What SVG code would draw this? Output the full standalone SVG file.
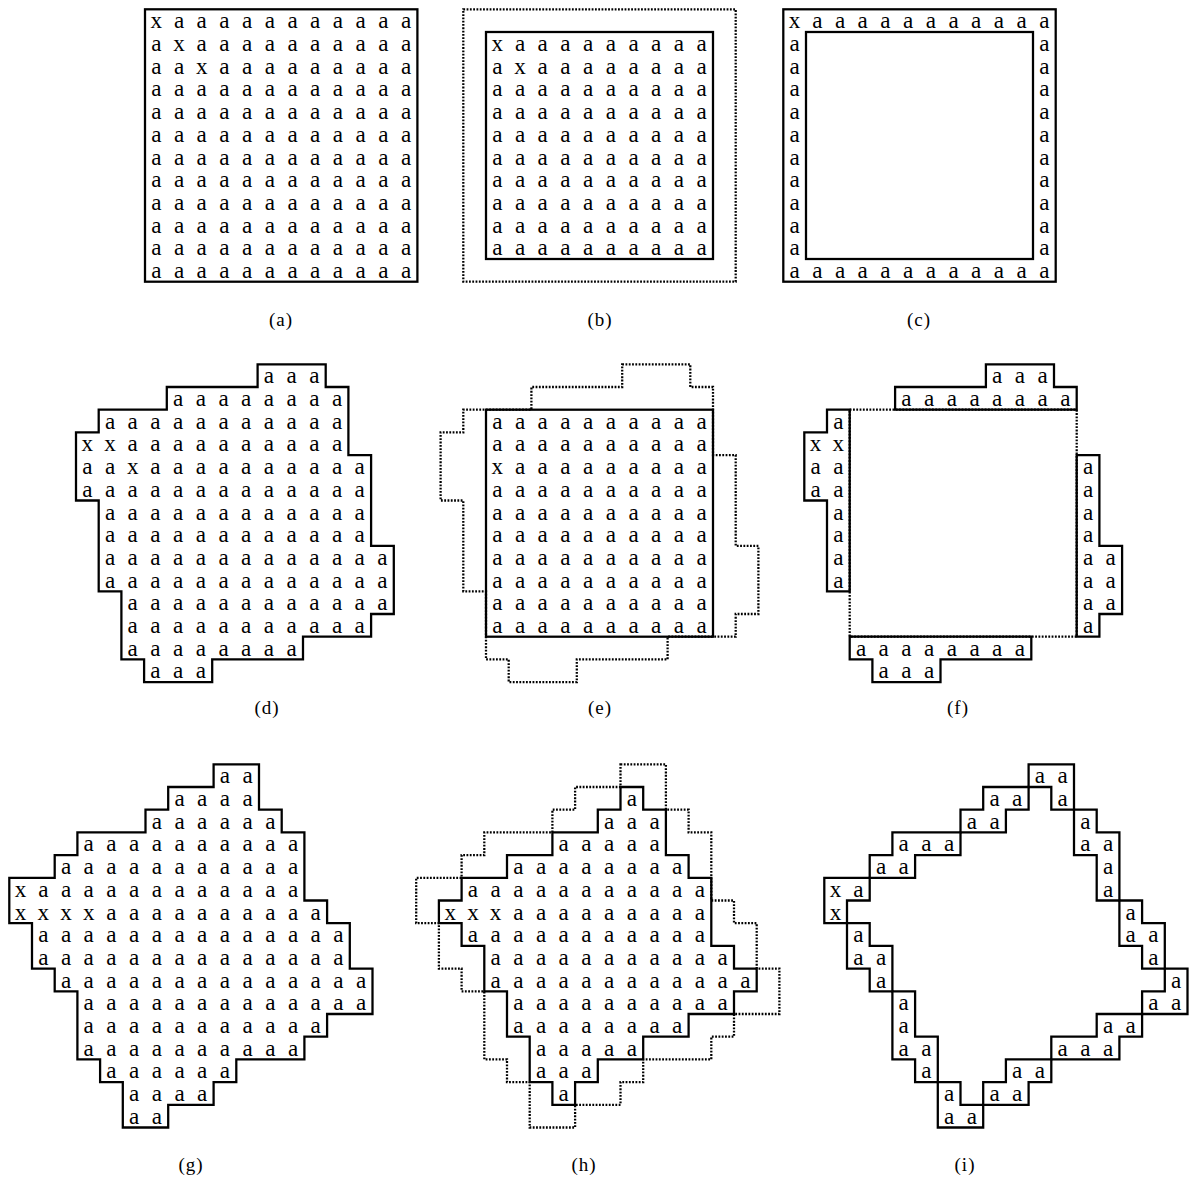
<svg xmlns="http://www.w3.org/2000/svg" width="1192" height="1186" viewBox="0 0 1192 1186">
<style>
.t{font-family:"Liberation Serif","DejaVu Serif",serif;font-size:10.2px;text-anchor:middle;fill:#000}
.s{fill:none;stroke:#000;stroke-width:1.0;stroke-linejoin:miter}
.d{fill:none;stroke:#000;stroke-width:1.0;stroke-dasharray:0.8 0.65}
.cap{font-family:"Liberation Serif","DejaVu Serif",serif;font-size:19px;text-anchor:middle;letter-spacing:1px;fill:#000}
</style>
<rect width="1192" height="1186" fill="#fff"/>

<g id="panel-a" transform="translate(145,9.3) scale(2.27)">
<rect class="s" x="0" y="0" width="120" height="120"/>
<text class="t" y="8.4" x="5 10 15 20 25 30 35 40 45 50 55 60 65 70 75 80 85 90 95 100 105 110 115">x a a a a a a a a a a a</text>
<text class="t" y="18.4" x="5 10 15 20 25 30 35 40 45 50 55 60 65 70 75 80 85 90 95 100 105 110 115">a x a a a a a a a a a a</text>
<text class="t" y="28.4" x="5 10 15 20 25 30 35 40 45 50 55 60 65 70 75 80 85 90 95 100 105 110 115">a a x a a a a a a a a a</text>
<text class="t" y="38.4" x="5 10 15 20 25 30 35 40 45 50 55 60 65 70 75 80 85 90 95 100 105 110 115">a a a a a a a a a a a a</text>
<text class="t" y="48.4" x="5 10 15 20 25 30 35 40 45 50 55 60 65 70 75 80 85 90 95 100 105 110 115">a a a a a a a a a a a a</text>
<text class="t" y="58.4" x="5 10 15 20 25 30 35 40 45 50 55 60 65 70 75 80 85 90 95 100 105 110 115">a a a a a a a a a a a a</text>
<text class="t" y="68.4" x="5 10 15 20 25 30 35 40 45 50 55 60 65 70 75 80 85 90 95 100 105 110 115">a a a a a a a a a a a a</text>
<text class="t" y="78.4" x="5 10 15 20 25 30 35 40 45 50 55 60 65 70 75 80 85 90 95 100 105 110 115">a a a a a a a a a a a a</text>
<text class="t" y="88.4" x="5 10 15 20 25 30 35 40 45 50 55 60 65 70 75 80 85 90 95 100 105 110 115">a a a a a a a a a a a a</text>
<text class="t" y="98.4" x="5 10 15 20 25 30 35 40 45 50 55 60 65 70 75 80 85 90 95 100 105 110 115">a a a a a a a a a a a a</text>
<text class="t" y="108.4" x="5 10 15 20 25 30 35 40 45 50 55 60 65 70 75 80 85 90 95 100 105 110 115">a a a a a a a a a a a a</text>
<text class="t" y="118.4" x="5 10 15 20 25 30 35 40 45 50 55 60 65 70 75 80 85 90 95 100 105 110 115">a a a a a a a a a a a a</text>
</g>

<g id="panel-b" transform="translate(463.3,9.3) scale(2.27)">
<rect class="d" x="0" y="0" width="120" height="120"/>
<rect class="s" x="10" y="10" width="100" height="100"/>
<text class="t" y="18.4" x="15 20 25 30 35 40 45 50 55 60 65 70 75 80 85 90 95 100 105">x a a a a a a a a a</text>
<text class="t" y="28.4" x="15 20 25 30 35 40 45 50 55 60 65 70 75 80 85 90 95 100 105">a x a a a a a a a a</text>
<text class="t" y="38.4" x="15 20 25 30 35 40 45 50 55 60 65 70 75 80 85 90 95 100 105">a a a a a a a a a a</text>
<text class="t" y="48.4" x="15 20 25 30 35 40 45 50 55 60 65 70 75 80 85 90 95 100 105">a a a a a a a a a a</text>
<text class="t" y="58.4" x="15 20 25 30 35 40 45 50 55 60 65 70 75 80 85 90 95 100 105">a a a a a a a a a a</text>
<text class="t" y="68.4" x="15 20 25 30 35 40 45 50 55 60 65 70 75 80 85 90 95 100 105">a a a a a a a a a a</text>
<text class="t" y="78.4" x="15 20 25 30 35 40 45 50 55 60 65 70 75 80 85 90 95 100 105">a a a a a a a a a a</text>
<text class="t" y="88.4" x="15 20 25 30 35 40 45 50 55 60 65 70 75 80 85 90 95 100 105">a a a a a a a a a a</text>
<text class="t" y="98.4" x="15 20 25 30 35 40 45 50 55 60 65 70 75 80 85 90 95 100 105">a a a a a a a a a a</text>
<text class="t" y="108.4" x="15 20 25 30 35 40 45 50 55 60 65 70 75 80 85 90 95 100 105">a a a a a a a a a a</text>
</g>

<g id="panel-c" transform="translate(783.3,9.3) scale(2.27)">
<rect class="s" x="0" y="0" width="120" height="120"/>
<rect class="s" x="10" y="10" width="100" height="100"/>
<text class="t" y="8.4" x="5 10 15 20 25 30 35 40 45 50 55 60 65 70 75 80 85 90 95 100 105 110 115">x a a a a a a a a a a a</text>
<text class="t" y="18.4" x="5 60 115">a a</text>
<text class="t" y="28.4" x="5 60 115">a a</text>
<text class="t" y="38.4" x="5 60 115">a a</text>
<text class="t" y="48.4" x="5 60 115">a a</text>
<text class="t" y="58.4" x="5 60 115">a a</text>
<text class="t" y="68.4" x="5 60 115">a a</text>
<text class="t" y="78.4" x="5 60 115">a a</text>
<text class="t" y="88.4" x="5 60 115">a a</text>
<text class="t" y="98.4" x="5 60 115">a a</text>
<text class="t" y="108.4" x="5 60 115">a a</text>
<text class="t" y="118.4" x="5 10 15 20 25 30 35 40 45 50 55 60 65 70 75 80 85 90 95 100 105 110 115">a a a a a a a a a a a a</text>
</g>

<g id="panel-d" transform="translate(76,364.3) scale(2.27)">
<path class="s" d="M80 0H110V10H120V40H130V80H140V110H130V120H100V130H60V140H30V130H20V100H10V60H0V30H10V20H40V10H80Z"/>
<text class="t" y="8.4" x="85 90 95 100 105">a a a</text>
<text class="t" y="18.4" x="45 50 55 60 65 70 75 80 85 90 95 100 105 110 115">a a a a a a a a</text>
<text class="t" y="28.4" x="15 20 25 30 35 40 45 50 55 60 65 70 75 80 85 90 95 100 105 110 115">a a a a a a a a a a a</text>
<text class="t" y="38.4" x="5 10 15 20 25 30 35 40 45 50 55 60 65 70 75 80 85 90 95 100 105 110 115">x x a a a a a a a a a a</text>
<text class="t" y="48.4" x="5 10 15 20 25 30 35 40 45 50 55 60 65 70 75 80 85 90 95 100 105 110 115 120 125">a a x a a a a a a a a a a</text>
<text class="t" y="58.4" x="5 10 15 20 25 30 35 40 45 50 55 60 65 70 75 80 85 90 95 100 105 110 115 120 125">a a a a a a a a a a a a a</text>
<text class="t" y="68.4" x="15 20 25 30 35 40 45 50 55 60 65 70 75 80 85 90 95 100 105 110 115 120 125">a a a a a a a a a a a a</text>
<text class="t" y="78.4" x="15 20 25 30 35 40 45 50 55 60 65 70 75 80 85 90 95 100 105 110 115 120 125">a a a a a a a a a a a a</text>
<text class="t" y="88.4" x="15 20 25 30 35 40 45 50 55 60 65 70 75 80 85 90 95 100 105 110 115 120 125 130 135">a a a a a a a a a a a a a</text>
<text class="t" y="98.4" x="15 20 25 30 35 40 45 50 55 60 65 70 75 80 85 90 95 100 105 110 115 120 125 130 135">a a a a a a a a a a a a a</text>
<text class="t" y="108.4" x="25 30 35 40 45 50 55 60 65 70 75 80 85 90 95 100 105 110 115 120 125 130 135">a a a a a a a a a a a a</text>
<text class="t" y="118.4" x="25 30 35 40 45 50 55 60 65 70 75 80 85 90 95 100 105 110 115 120 125">a a a a a a a a a a a</text>
<text class="t" y="128.4" x="25 30 35 40 45 50 55 60 65 70 75 80 85 90 95">a a a a a a a a</text>
<text class="t" y="138.4" x="35 40 45 50 55">a a a</text>
</g>

<g id="panel-e" transform="translate(440.6,364.3) scale(2.27)">
<path class="d" d="M80 0H110V10H120V40H130V80H140V110H130V120H100V130H60V140H30V130H20V100H10V60H0V30H10V20H40V10H80Z"/>
<rect class="s" x="20" y="20" width="100" height="100"/>
<text class="t" y="28.4" x="25 30 35 40 45 50 55 60 65 70 75 80 85 90 95 100 105 110 115">a a a a a a a a a a</text>
<text class="t" y="38.4" x="25 30 35 40 45 50 55 60 65 70 75 80 85 90 95 100 105 110 115">a a a a a a a a a a</text>
<text class="t" y="48.4" x="25 30 35 40 45 50 55 60 65 70 75 80 85 90 95 100 105 110 115">x a a a a a a a a a</text>
<text class="t" y="58.4" x="25 30 35 40 45 50 55 60 65 70 75 80 85 90 95 100 105 110 115">a a a a a a a a a a</text>
<text class="t" y="68.4" x="25 30 35 40 45 50 55 60 65 70 75 80 85 90 95 100 105 110 115">a a a a a a a a a a</text>
<text class="t" y="78.4" x="25 30 35 40 45 50 55 60 65 70 75 80 85 90 95 100 105 110 115">a a a a a a a a a a</text>
<text class="t" y="88.4" x="25 30 35 40 45 50 55 60 65 70 75 80 85 90 95 100 105 110 115">a a a a a a a a a a</text>
<text class="t" y="98.4" x="25 30 35 40 45 50 55 60 65 70 75 80 85 90 95 100 105 110 115">a a a a a a a a a a</text>
<text class="t" y="108.4" x="25 30 35 40 45 50 55 60 65 70 75 80 85 90 95 100 105 110 115">a a a a a a a a a a</text>
<text class="t" y="118.4" x="25 30 35 40 45 50 55 60 65 70 75 80 85 90 95 100 105 110 115">a a a a a a a a a a</text>
</g>

<g id="panel-f" transform="translate(804.3,364.3) scale(2.27)">
<rect class="d" x="20" y="20" width="100" height="100"/>
<path class="s" d="M80 0H110V10H120V20H40V10H80Z"/>
<path class="s" d="M10 20H20V100H10V60H0V30H10Z"/>
<path class="s" d="M120 40H130V80H140V110H130V120H120Z"/>
<path class="s" d="M20 120H100V130H60V140H30V130H20Z"/>
<text class="t" y="8.4" x="85 90 95 100 105">a a a</text>
<text class="t" y="18.4" x="45 50 55 60 65 70 75 80 85 90 95 100 105 110 115">a a a a a a a a</text>
<text class="t" y="28.4" x="15">a</text>
<text class="t" y="38.4" x="5 10 15">x x</text>
<text class="t" y="48.4" x="5 10 15">a a</text>
<text class="t" y="48.4" x="125">a</text>
<text class="t" y="58.4" x="5 10 15">a a</text>
<text class="t" y="58.4" x="125">a</text>
<text class="t" y="68.4" x="15">a</text>
<text class="t" y="68.4" x="125">a</text>
<text class="t" y="78.4" x="15">a</text>
<text class="t" y="78.4" x="125">a</text>
<text class="t" y="88.4" x="15">a</text>
<text class="t" y="88.4" x="125 130 135">a a</text>
<text class="t" y="98.4" x="15">a</text>
<text class="t" y="98.4" x="125 130 135">a a</text>
<text class="t" y="108.4" x="125 130 135">a a</text>
<text class="t" y="118.4" x="125">a</text>
<text class="t" y="128.4" x="25 30 35 40 45 50 55 60 65 70 75 80 85 90 95">a a a a a a a a</text>
<text class="t" y="138.4" x="35 40 45 50 55">a a a</text>
</g>

<g id="panel-g" transform="translate(9.3,764.3) scale(2.27)">
<path class="s" d="M90 0H110V20H120V30H130V60H140V70H150V90H160V110H140V120H130V130H100V140H90V150H70V160H50V140H40V130H30V100H20V90H10V70H0V50H20V40H30V30H60V20H70V10H90Z"/>
<text class="t" y="8.4" x="95 100 105">a a</text>
<text class="t" y="18.4" x="75 80 85 90 95 100 105">a a a a</text>
<text class="t" y="28.4" x="65 70 75 80 85 90 95 100 105 110 115">a a a a a a</text>
<text class="t" y="38.4" x="35 40 45 50 55 60 65 70 75 80 85 90 95 100 105 110 115 120 125">a a a a a a a a a a</text>
<text class="t" y="48.4" x="25 30 35 40 45 50 55 60 65 70 75 80 85 90 95 100 105 110 115 120 125">a a a a a a a a a a a</text>
<text class="t" y="58.4" x="5 10 15 20 25 30 35 40 45 50 55 60 65 70 75 80 85 90 95 100 105 110 115 120 125">x a a a a a a a a a a a a</text>
<text class="t" y="68.4" x="5 10 15 20 25 30 35 40 45 50 55 60 65 70 75 80 85 90 95 100 105 110 115 120 125 130 135">x x x x a a a a a a a a a a</text>
<text class="t" y="78.4" x="15 20 25 30 35 40 45 50 55 60 65 70 75 80 85 90 95 100 105 110 115 120 125 130 135 140 145">a a a a a a a a a a a a a a</text>
<text class="t" y="88.4" x="15 20 25 30 35 40 45 50 55 60 65 70 75 80 85 90 95 100 105 110 115 120 125 130 135 140 145">a a a a a a a a a a a a a a</text>
<text class="t" y="98.4" x="25 30 35 40 45 50 55 60 65 70 75 80 85 90 95 100 105 110 115 120 125 130 135 140 145 150 155">a a a a a a a a a a a a a a</text>
<text class="t" y="108.4" x="35 40 45 50 55 60 65 70 75 80 85 90 95 100 105 110 115 120 125 130 135 140 145 150 155">a a a a a a a a a a a a a</text>
<text class="t" y="118.4" x="35 40 45 50 55 60 65 70 75 80 85 90 95 100 105 110 115 120 125 130 135">a a a a a a a a a a a</text>
<text class="t" y="128.4" x="35 40 45 50 55 60 65 70 75 80 85 90 95 100 105 110 115 120 125">a a a a a a a a a a</text>
<text class="t" y="138.4" x="45 50 55 60 65 70 75 80 85 90 95">a a a a a a</text>
<text class="t" y="148.4" x="55 60 65 70 75 80 85">a a a a</text>
<text class="t" y="158.4" x="55 60 65">a a</text>
</g>

<g id="panel-h" transform="translate(416.2,764.3) scale(2.27)">
<path class="d" d="M90 0H110V20H120V30H130V60H140V70H150V90H160V110H140V120H130V130H100V140H90V150H70V160H50V140H40V130H30V100H20V90H10V70H0V50H20V40H30V30H60V20H70V10H90Z"/>
<path class="s" d="M90 10H100V20H110V40H120V50H130V80H140V90H150V100H140V110H120V120H100V130H80V140H70V150H60V140H50V120H40V100H30V80H20V70H10V60H20V50H40V40H60V30H80V20H90Z"/>
<text class="t" y="18.4" x="95">a</text>
<text class="t" y="28.4" x="85 90 95 100 105">a a a</text>
<text class="t" y="38.4" x="65 70 75 80 85 90 95 100 105">a a a a a</text>
<text class="t" y="48.4" x="45 50 55 60 65 70 75 80 85 90 95 100 105 110 115">a a a a a a a a</text>
<text class="t" y="58.4" x="25 30 35 40 45 50 55 60 65 70 75 80 85 90 95 100 105 110 115 120 125">a a a a a a a a a a a</text>
<text class="t" y="68.4" x="15 20 25 30 35 40 45 50 55 60 65 70 75 80 85 90 95 100 105 110 115 120 125">x x x a a a a a a a a a</text>
<text class="t" y="78.4" x="25 30 35 40 45 50 55 60 65 70 75 80 85 90 95 100 105 110 115 120 125">a a a a a a a a a a a</text>
<text class="t" y="88.4" x="35 40 45 50 55 60 65 70 75 80 85 90 95 100 105 110 115 120 125 130 135">a a a a a a a a a a a</text>
<text class="t" y="98.4" x="35 40 45 50 55 60 65 70 75 80 85 90 95 100 105 110 115 120 125 130 135 140 145">a a a a a a a a a a a a</text>
<text class="t" y="108.4" x="45 50 55 60 65 70 75 80 85 90 95 100 105 110 115 120 125 130 135">a a a a a a a a a a</text>
<text class="t" y="118.4" x="45 50 55 60 65 70 75 80 85 90 95 100 105 110 115">a a a a a a a a</text>
<text class="t" y="128.4" x="55 60 65 70 75 80 85 90 95">a a a a a</text>
<text class="t" y="138.4" x="55 60 65 70 75">a a a</text>
<text class="t" y="148.4" x="65">a</text>
</g>

<g id="panel-i" transform="translate(824.3,764.3) scale(2.27)">
<path class="s" d="M90 0H110V20H120V30H130V60H140V70H150V90H160V110H140V120H130V130H100V140H90V150H70V160H50V140H40V130H30V100H20V90H10V70H0V50H20V40H30V30H60V20H70V10H90Z"/>
<path class="s" d="M90 10H100V20H110V40H120V60H130V80H140V90H150V100H140V110H120V120H100V130H80V140H70V150H60V140H50V120H40V100H30V80H20V70H10V60H20V50H40V40H60V30H80V20H90Z"/>
<text class="t" y="8.4" x="95 100 105">a a</text>
<text class="t" y="18.4" x="75 80 85">a a</text>
<text class="t" y="18.4" x="105">a</text>
<text class="t" y="28.4" x="65 70 75">a a</text>
<text class="t" y="28.4" x="115">a</text>
<text class="t" y="38.4" x="35 40 45 50 55">a a a</text>
<text class="t" y="38.4" x="115 120 125">a a</text>
<text class="t" y="48.4" x="25 30 35">a a</text>
<text class="t" y="48.4" x="125">a</text>
<text class="t" y="58.4" x="5 10 15">x a</text>
<text class="t" y="58.4" x="125">a</text>
<text class="t" y="68.4" x="5">x</text>
<text class="t" y="68.4" x="135">a</text>
<text class="t" y="78.4" x="15">a</text>
<text class="t" y="78.4" x="135 140 145">a a</text>
<text class="t" y="88.4" x="15 20 25">a a</text>
<text class="t" y="88.4" x="145">a</text>
<text class="t" y="98.4" x="25">a</text>
<text class="t" y="98.4" x="155">a</text>
<text class="t" y="108.4" x="35">a</text>
<text class="t" y="108.4" x="145 150 155">a a</text>
<text class="t" y="118.4" x="35">a</text>
<text class="t" y="118.4" x="125 130 135">a a</text>
<text class="t" y="128.4" x="35 40 45">a a</text>
<text class="t" y="128.4" x="105 110 115 120 125">a a a</text>
<text class="t" y="138.4" x="45">a</text>
<text class="t" y="138.4" x="85 90 95">a a</text>
<text class="t" y="148.4" x="55">a</text>
<text class="t" y="148.4" x="75 80 85">a a</text>
<text class="t" y="158.4" x="55 60 65">a a</text>
</g>

<g id="captions">
<text class="cap" x="281" y="326">(a)</text>
<text class="cap" x="600" y="326">(b)</text>
<text class="cap" x="919" y="326">(c)</text>
<text class="cap" x="267" y="714">(d)</text>
<text class="cap" x="600" y="714">(e)</text>
<text class="cap" x="958" y="714">(f)</text>
<text class="cap" x="191" y="1171">(g)</text>
<text class="cap" x="584" y="1171">(h)</text>
<text class="cap" x="965" y="1171">(i)</text>
</g>
</svg>
